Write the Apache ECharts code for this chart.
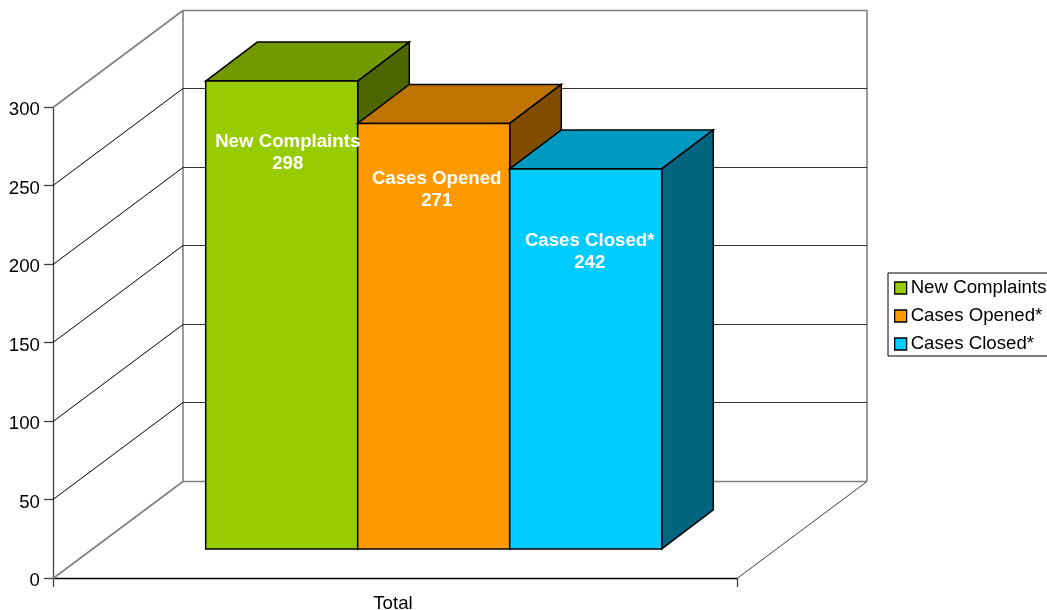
<!DOCTYPE html>
<html>
<head>
<meta charset="utf-8">
<style>html,body{margin:0;padding:0;background:#fff}#c{width:1047px;height:610px}</style>
<script src="https://cdn.jsdelivr.net/npm/echarts@6/dist/echarts.min.js"></script>
</head>
<body>
<div id="c"></div>
<script>
const categories = ['Total'];
const seriesNames = ['New Complaints', 'Cases Opened*', 'Cases Closed*'];
const labelNames = ['New Complaints', 'Cases Opened', 'Cases Closed*'];
const seriesValues = [298, 271, 242];
const yTicks = [0, 50, 100, 150, 200, 250, 300];

const frontColors = ['#99CC00', '#FF9900', '#00CCFF'];
const topColors = ['#739900', '#BF7300', '#0099BF'];
const sideColors = ['#4D6600', '#804D00', '#006680'];
const labelShift = [[6, 61], [3, 55], [4, 72]];

const FONT = '"Liberation Sans", Arial, sans-serif';
const FS = 18.67;
const DEPTH_X = 130, DEPTH_Y = -97;
const LEAD = 0.3, BAR_DEPTH_X = 51.6, BAR_DEPTH_Y = -39;
const GRID_GREY = '#808080';

function line(x1, y1, x2, y2, stroke, width) {
  return {type: 'line', silent: true, shape: {x1, y1, x2, y2},
          style: {stroke, lineWidth: width || 1, fill: null}};
}

function renderWall(params, api) {
  const v = api.value(1);
  const p = api.coord([0, v]);
  const band = api.size([1, 0])[0];
  const xL = p[0] - band / 2, xR = p[0] + band / 2;
  const y = Math.floor(p[1]);
  const bx = xL + DEPTH_X, by = y + DEPTH_Y;
  const edge = v === yTicks[0] || v === yTicks[yTicks.length - 1];
  const children = [
    line(xL, y + 0.5, bx, by + 0.5, edge ? GRID_GREY : '#000', edge ? 1.6 : 1),
    line(bx, by + 0.5, bx + band, by + 0.5, edge ? GRID_GREY : '#333', edge ? 1.6 : 1)
  ];
  if (v === yTicks[0]) {
    const top = Math.floor(api.coord([0, yTicks[yTicks.length - 1]])[1]) + DEPTH_Y;
    children.push(line(bx, by, bx, top, GRID_GREY, 1.6));
    children.push(line(bx + band, by, bx + band, top, GRID_GREY, 1.6));
    children.push(line(xR, y + 0.5, bx + band, by + 0.5, '#404040', 1));
  }
  return {type: 'group', children};
}

function barGeom(api, idx) {
  const v = api.value(1);
  const top = api.coord([0, v]);
  const base = api.coord([0, 0]);
  const band = api.size([1, 0])[0];
  const w = band / 4.5;
  const x0 = top[0] + DEPTH_X * LEAD + (idx - 1.5) * w - 0.3;
  const dy = DEPTH_Y * LEAD;
  return {x0, w, yBase: base[1] + dy, yTop: top[1] + dy,
          dx: BAR_DEPTH_X, ddy: BAR_DEPTH_Y};
}

function renderBar(idx) {
  return function (params, api) {
    const g = barGeom(api, idx);
    const x1 = g.x0 + g.w;
    const st = fill => ({fill, stroke: '#000', lineWidth: 1.5, lineJoin: 'miter'});
    return {type: 'group', children: [
      {type: 'polygon', shape: {points: [[g.x0, g.yTop], [g.x0 + g.dx, g.yTop + g.ddy], [x1 + g.dx, g.yTop + g.ddy], [x1, g.yTop]]}, style: st(topColors[idx])},
      {type: 'polygon', shape: {points: [[x1, g.yTop], [x1 + g.dx, g.yTop + g.ddy], [x1 + g.dx, g.yBase + g.ddy], [x1, g.yBase]]}, style: st(sideColors[idx])},
      {type: 'rect', shape: {x: g.x0, y: g.yTop, width: g.w, height: g.yBase - g.yTop}, style: st(frontColors[idx])}
    ]};
  };
}

function renderLabel(params, api) {
  const idx = params.dataIndex;
  const g = barGeom(api, idx);
  return {type: 'text', silent: true, style: {
    text: labelNames[idx] + '\n' + api.value(1),
    x: g.x0 + g.w / 2 + labelShift[idx][0],
    y: g.yTop + labelShift[idx][1] + 11,
    fill: '#fff', font: 'bold ' + FS + 'px ' + FONT,
    align: 'center', verticalAlign: 'middle', lineHeight: 22
  }};
}

const series = [{
  type: 'custom', name: 'walls', z: 1, silent: true, clip: false,
  renderItem: renderWall, encode: {x: 0, y: 1},
  data: yTicks.map(v => [0, v])
}];
seriesNames.forEach((name, i) => series.push({
  type: 'custom', name, z: 2 + i, silent: true, clip: false,
  renderItem: renderBar(i), encode: {x: 0, y: 1},
  itemStyle: {color: frontColors[i]},
  data: [[0, seriesValues[i]]]
}));
series.push({
  type: 'custom', name: 'labels', z: 6, silent: true, clip: false,
  renderItem: renderLabel, encode: {x: 0, y: 1},
  data: seriesValues.map(v => [0, v])
});

const chart = echarts.init(document.getElementById('c'), null, {renderer: 'canvas'});
chart.setOption({
  animation: false,
  backgroundColor: '#fff',
  textStyle: {fontFamily: FONT},
  grid: {left: 53, right: 310, top: 107, bottom: 32, containLabel: false, outerBoundsMode: 'none'},
  xAxis: {
    type: 'category', data: categories,
    axisLine: {lineStyle: {color: '#000', width: 1.3}},
    axisTick: {show: true, length: 9, lineStyle: {color: '#404040', width: 1.3}},
    axisLabel: {color: '#000', fontSize: FS, margin: 16, fontFamily: FONT, padding: [0, 4, 0, 0]}
  },
  yAxis: {
    type: 'value', min: 0, max: 300, interval: 50,
    splitLine: {show: false},
    axisLine: {show: true, lineStyle: {color: '#404040', width: 1.3}},
    axisTick: {show: true, length: 9, lineStyle: {color: '#404040', width: 1.3}},
    axisLabel: {color: '#000', fontSize: FS, margin: 13, fontFamily: FONT, verticalAlign: 'top', lineHeight: 20, padding: [-7, 0, 0, 0]}
  },
  legend: {
    data: seriesNames, orient: 'vertical', left: 888, top: 273,
    backgroundColor: '#fff', borderColor: '#000', borderWidth: 1,
    padding: [1, 4, -2, 6], itemGap: 0, itemWidth: 12, itemHeight: 12,
    icon: 'rect', selectedMode: false,
    itemStyle: {borderColor: '#000', borderWidth: 1.3},
    textStyle: {color: '#000', fontSize: FS, fontFamily: FONT, lineHeight: 28, padding: [0, 0, 0, -1]}
  },
  series
});
</script>
</body>
</html>
